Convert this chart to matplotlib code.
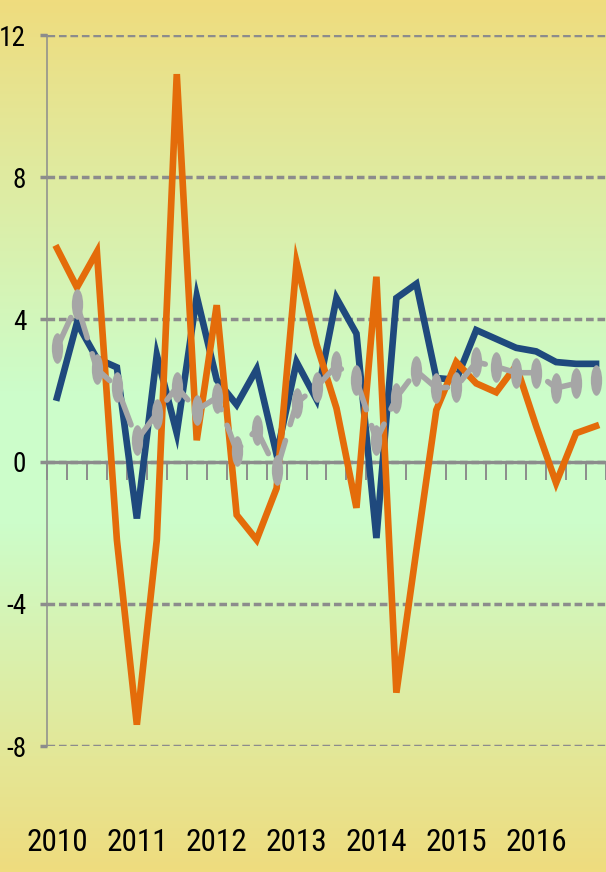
import matplotlib
matplotlib.use('Agg')
import matplotlib.pyplot as plt
from matplotlib.colors import LinearSegmentedColormap
from matplotlib.path import Path
from matplotlib.transforms import Affine2D
import numpy as np

years = ['2010', '2011', '2012', '2013', '2014', '2015', '2016']
per_year = 4  # quarterly data

blue = [1.8, 3.9, 2.9, 2.65, -1.6, 3.0, 0.8, 4.65, 2.3, 1.6, 2.6, 0.2, 2.8, 1.75,
        4.6, 3.6, -2.15, 4.6, 5.0, 2.35, 2.3, 3.7, 3.45, 3.2, 3.1, 2.8, 2.75, 2.75]
orange = [6.0, 4.9, 5.9, -2.2, -7.4, -2.2, 10.9, 0.6, 4.4, -1.5, -2.2, -0.75, 5.6, 3.3,
          1.5, -1.3, 5.2, -6.5, -2.5, 1.45, 2.8, 2.2, 1.95, 2.7, 1.0, -0.6, 0.8, 1.0]
gray = [3.2, 4.43, 2.6, 2.1, 0.6, 1.35, 2.1, 1.45, 1.8, 0.3, 0.9, -0.25, 1.65, 2.1,
        2.7, 2.3, 0.6, 1.8, 2.55, 2.07, 2.1, 2.8, 2.67, 2.5, 2.5, 2.07, 2.2, 2.3]
yticks = [-8, -4, 0, 4, 8, 12]

grid_col = '#8c8c8c'
font = ['Roboto Condensed', 'Open Sans Condensed', 'Liberation Sans Narrow', 'DejaVu Sans']

fig = plt.figure(figsize=(6.06, 8.72), dpi=100)

# background gradient yellow -> pale green -> yellow
bg = fig.add_axes([0, 0, 1, 1], zorder=-10)
cmap = LinearSegmentedColormap.from_list(
    'bg', [(0, '#efdc7e'), (0.45, '#ccfdca'), (0.6, '#ccfdca'), (1, '#efdc7e')])
bg.imshow(np.linspace(0, 1, 256).reshape(-1, 1), aspect='auto', cmap=cmap,
          extent=[0, 1, 0, 1])
bg.axis('off')

ax = fig.add_axes([47 / 606, 126 / 872, 1 - 47 / 606, 711 / 872])
ax.patch.set_alpha(0)

x = np.arange(len(blue))
ax.set_xlim(-0.5, len(blue) - 0.5)
ax.set_ylim(-8, 12)

ax.set_yticks(yticks)
ylabels = ax.set_yticklabels([str(v) for v in yticks], family=font,
                             fontstretch='condensed', fontsize=23)
ax.grid(axis='y', color=grid_col, lw=2.5, linestyle=(0, (2.2, 1.1)), zorder=1)
ax.tick_params(axis='y', direction='out', length=5, width=2.5, color=grid_col, pad=10)

for s in ['top', 'right']:
    ax.spines[s].set_visible(False)
ax.spines['left'].set_color(grid_col)
ax.spines['left'].set_linewidth(1.1)
ax.spines['bottom'].set_position(('data', 0))
ax.spines['bottom'].set_color(grid_col)
ax.spines['bottom'].set_linewidth(2.4)
ax.spines['bottom'].set_zorder(2)

ax.set_xticks(np.arange(len(blue) + 1) - 0.5)
ax.set_xticklabels([])
ax.tick_params(axis='x', direction='out', length=13, width=1.4, color=grid_col)

xlabels = []
for i, yr in enumerate(years):
    xlabels.append(ax.text(i * per_year, -0.136, yr, transform=ax.get_xaxis_transform(),
                           ha='center', va='center', fontsize=25, family=font,
                           fontstretch='condensed'))

ax.plot(x, blue, color='#1f497d', lw=4.8, solid_joinstyle='miter', zorder=3)
ax.plot(x, orange, color='#e46c0a', lw=4.8, solid_joinstyle='miter', zorder=4)

circ = Path.unit_circle()
ellipse = Path(Affine2D().scale(0.37, 1).transform(circ.vertices), circ.codes)
ax.plot(x, gray, color='#a6a6a6', lw=4.0, linestyle=(0, (6.0, 3.0)),
        dash_capstyle='round', marker=ellipse, markersize=22,
        markeredgewidth=0, zorder=5)

# shrink the labels if only a wide font is available
fig.canvas.draw()
r = fig.canvas.get_renderer()
w = xlabels[0].get_window_extent(r).width
if w > 62:
    for t in xlabels:
        t.set_fontsize(25 * 62 / w)
w = max(t.get_window_extent(r).width for t in ylabels)
if w > 27:
    for t in ylabels:
        t.set_fontsize(23 * 27 / w)

fig.savefig('out.png', dpi=100)
